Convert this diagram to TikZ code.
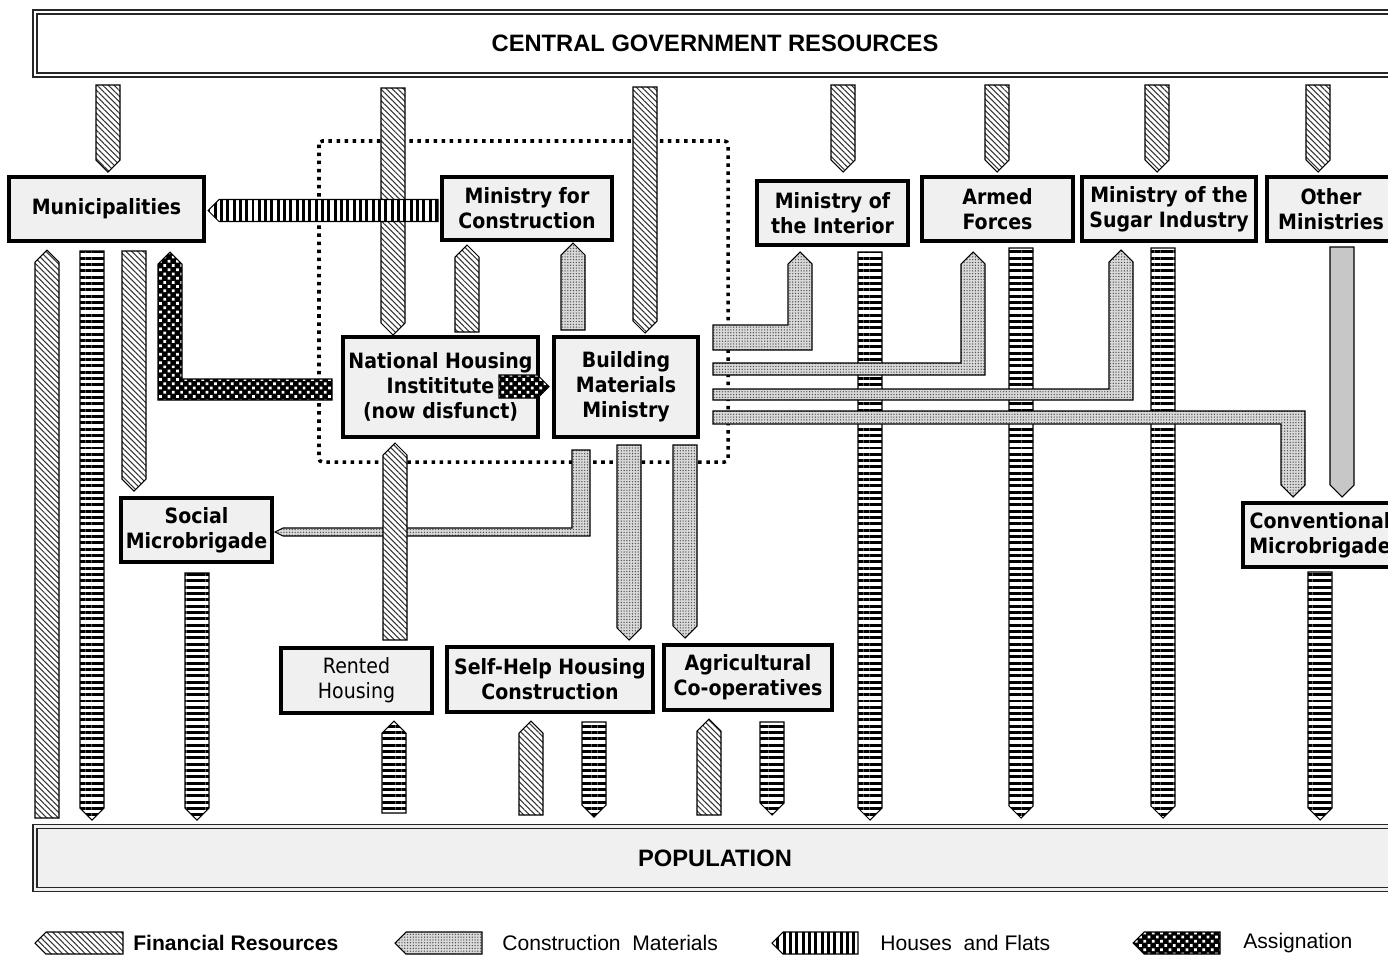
\documentclass[tikz,border=0pt]{standalone}
\usepackage{fontspec}
\setmainfont{Liberation Sans}
\newfontfamily\boxfont{DejaVu Sans}[FakeStretch=0.9]
\usetikzlibrary{patterns.meta}

% block arrows, style / x or y / tail / tip
\newcommand{\arrowdown}[4]{\path[#1] ({#2-12},#3) -- ({#2+12},#3) -- ({#2+12},{#4-12}) -- (#2,#4) -- ({#2-12},{#4-12}) -- cycle;}
\newcommand{\arrowup}[4]{\path[#1] ({#2-12},#3) -- ({#2+12},#3) -- ({#2+12},{#4+12}) -- (#2,#4) -- ({#2-12},{#4+12}) -- cycle;}
\newcommand{\arrowleft}[5]{\path[#1] (#3,{#2-#5}) -- (#3,{#2+#5}) -- ({#4+#5},{#2+#5}) -- (#4,#2) -- ({#4+#5},{#2-#5}) -- cycle;}
\newcommand{\arrowright}[5]{\path[#1] (#3,{#2-#5}) -- (#3,{#2+#5}) -- ({#4-#5},{#2+#5}) -- (#4,#2) -- ({#4-#5},{#2-#5}) -- cycle;}

\begin{document}
\begin{tikzpicture}[
  x=0.02cm, y=-0.02cm,
  box/.style={rectangle, draw=black, line width=2pt, fill=black!6, inner sep=0pt,
              font=\boxfont\bfseries\fontsize{12}{14.2}\selectfont, align=center},
  topbox/.style={rectangle, draw=black!85, line width=0.9pt, double=#1, double distance=1.4pt,
                 fill=#1, minimum width=27.2cm, minimum height=1.26cm,
                 font=\bfseries\fontsize{13.5}{16}\selectfont},
  fin/.style={draw=black, line width=0.6pt, preaction={fill=white},
              pattern={Lines[angle=-45,distance=2.3pt,line width=0.6pt]}, pattern color=black!80},
  hou/.style={draw=black, line width=0.6pt, preaction={fill=white},
              pattern={Lines[angle=0,distance=3.6pt,line width=1.7pt]}, pattern color=black},
  houv/.style={draw=black, line width=0.6pt, preaction={fill=white},
              pattern={Lines[angle=90,distance=3.6pt,line width=1.7pt]}, pattern color=black},
  con/.style={draw=black, line width=0.6pt, preaction={fill=black!15},
              pattern={Dots[distance=1.6pt,radius=0.4pt]}, pattern color=black!70},
  asg/.style={draw=black, line width=0.6pt, preaction={fill=black},
              pattern={Dots[angle=45,distance=3.4pt,radius=1.1pt]}, pattern color=white},
  oth/.style={draw=black, line width=0.6pt, fill=black!22},
  legtext/.style={anchor=west, inner sep=0pt, font=\fontsize{12}{14}\selectfont}
]
\useasboundingbox (0,0) rectangle (1388,954);

% Resources and population
\node[topbox=white] (cgr) at (715,43.5) {CENTRAL GOVERNMENT RESOURCES};
\node[topbox=black!6] (pop) at (715,858) {POPULATION};

% Dotted frame
\draw[line width=2pt, dash pattern=on 2pt off 2.6pt, rounded corners=2pt] (319,141) rectangle (728,462);

% Top row
\node[box, minimum width=3.9cm, minimum height=1.28cm] (muni) at (106.5,209) {Municipalities};
\node[box, minimum width=3.4cm, minimum height=1.26cm] (mfc) at (527,208.5) {Ministry for\\Construction};
\node[box, minimum width=3.02cm, minimum height=1.28cm] (mint) at (832.5,213) {Ministry of\\the Interior};
\node[box, minimum width=3.02cm, minimum height=1.28cm] (armed) at (997.5,209) {Armed\\Forces};
\node[box, minimum width=3.48cm, minimum height=1.28cm] (sugar) at (1169,209) {Ministry of the\\Sugar Industry};
\node[box, minimum width=2.56cm, minimum height=1.28cm] (other) at (1331,209) {Other\\Ministries};

% Middle
\node[box, minimum width=3.9cm, minimum height=2cm] (nhi) at (440.5,387) {National Housing\\Instititute\\(now disfunct)};
\node[box, minimum width=2.88cm, minimum height=2cm] (bmm) at (626,387) {Building\\Materials\\Ministry};
\node[box, minimum width=3.02cm, minimum height=1.28cm] (social) at (196.5,530) {Social\\Microbrigade};
\node[box, minimum width=3.08cm, minimum height=1.28cm] (conv) at (1320,535) {Conventional\\Microbrigade};

% Bottom row
\node[box, font=\boxfont\fontsize{12}{14.2}\selectfont, minimum width=3.02cm, minimum height=1.3cm] (rented) at (356.5,680.5) {Rented\\Housing};
\node[box, minimum width=4.12cm, minimum height=1.3cm] (selfhelp) at (550,679.5) {Self-Help Housing\\Construction};
\node[box, minimum width=3.36cm, minimum height=1.3cm] (agri) at (748,677.5) {Agricultural\\Co-operatives};

% Financial resources from the centre
\arrowdown{fin}{108}{85}{172}
\arrowdown{fin}{393}{88}{335}
\arrowdown{fin}{645}{87}{333}
\arrowdown{fin}{843}{85}{172}
\arrowdown{fin}{997}{85}{172}
\arrowdown{fin}{1157}{85}{172}
\arrowdown{fin}{1318}{85}{172}

% Municipalities
\arrowup{fin}{47}{818}{250}
\arrowdown{hou}{92}{251}{820}
\arrowdown{fin}{134}{251}{491}
\path[asg] (158,400) -- (332,400) -- (332,379) -- (182,379) -- (182,264) -- (170,252) -- (158,264) -- cycle;

% Inside the frame
\arrowup{fin}{467}{332}{245}
\arrowup{con}{573}{330}{243}
\arrowright{asg}{386.5}{499}{549}{11.5}

% Materials going down
\path[con] (572,450) -- (590,450) -- (590,536) -- (283,536) -- (275,532) -- (283,528) -- (572,528) -- cycle;
\arrowdown{con}{629}{445}{640}
\arrowdown{con}{685}{445}{638}

% Houses from the ministries
\arrowdown{hou}{870}{252}{820}
\arrowdown{hou}{1021}{248}{818}
\arrowdown{hou}{1163}{248}{818}
\arrowdown{oth}{1342}{247}{497}
\arrowdown{hou}{1320}{572}{820}
\arrowdown{hou}{197}{573}{820}

% Materials to the ministries
\path[con] (713,325) -- (788,325) -- (788,264) -- (800,252) -- (812,264) -- (812,350) -- (713,350) -- cycle;
\path[con] (713,363) -- (961,363) -- (961,264) -- (973,252) -- (985,264) -- (985,375) -- (713,375) -- cycle;
\path[con] (713,389) -- (1109,389) -- (1109,262) -- (1121,250) -- (1133,262) -- (1133,400) -- (713,400) -- cycle;
\path[con] (713,411) -- (1305,411) -- (1305,485) -- (1293,497) -- (1281,485) -- (1281,424) -- (713,424) -- cycle;

% Bottom row flows
\arrowup{fin}{395}{640}{443}
\arrowup{hou}{394}{813}{721}
\arrowup{fin}{531}{815}{721}
\arrowdown{hou}{594}{722}{817}
\arrowup{fin}{709}{815}{719}
\arrowdown{hou}{772}{722}{815}

% Houses to municipalities
\arrowleft{houv}{210.5}{438}{208}{11}

% Legend
\arrowleft{fin}{943}{123}{35}{11}
\arrowleft{con}{943}{482}{395}{11}
\arrowleft{houv}{943}{858}{772}{11}
\arrowleft{asg}{943}{1220}{1133}{11}
\node[legtext, font=\bfseries\fontsize{12}{14}\selectfont] (lfin) at (133,943) {Financial Resources};
\node[legtext] (lcon) at (502,943) {Construction\ \ Materials};
\node[legtext] (lhou) at (880,943) {Houses\ \ and Flats};
\node[legtext] (lasg) at (1243,943) {Assignation};

\end{tikzpicture}
\end{document}
